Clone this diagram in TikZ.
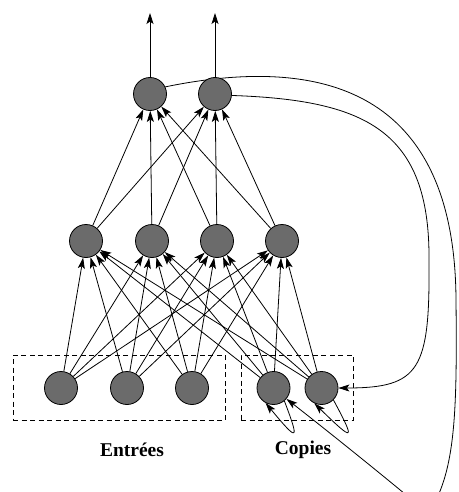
\documentclass[tikz,border=0pt]{standalone}
\usepackage{fontspec}
\setmainfont{Liberation Serif}
\usetikzlibrary{arrows.meta,backgrounds}
\begin{document}
\begin{tikzpicture}[x=1pt,y=-1pt,
  neuron/.style={circle,draw=black,line width=0.8pt,fill=black!58,minimum size=33pt,inner sep=0pt},
  conn/.style={line width=0.8pt,-{Stealth[length=11pt,width=7pt,inset=2.5pt]}},
  groupbox/.style={draw,dash pattern=on 5pt off 3.5pt,line width=0.8pt,minimum height=65pt,inner sep=0pt},
  lab/.style={font=\fontsize{19.5}{22}\selectfont\bfseries}]
\clip (0,0) rectangle (458,492);
% groups
\node[groupbox,minimum width=212pt] (boxE) at (119,387.5) {};
\node[groupbox,minimum width=112pt] (boxC) at (297,387.5) {};
% neurons
\node[neuron] (t1) at (150,94) {};
\node[neuron] (t2) at (215,94) {};
\node[neuron] (h1) at (86,241) {};
\node[neuron] (h2) at (152,241) {};
\node[neuron] (h3) at (217,241) {};
\node[neuron] (h4) at (282,241) {};
\node[neuron] (i1) at (61,388) {};
\node[neuron] (i2) at (127,388) {};
\node[neuron] (i3) at (192,388) {};
\node[neuron] (c1) at (273.5,388) {};
\node[neuron] (c2) at (321.5,388) {};
% outputs
\coordinate (o1) at (150,13);
\coordinate (o2) at (215,13);
\draw[conn] (t1) -- (o1);
\draw[conn] (t2) -- (o2);
% hidden -> output
\foreach \h in {h1,h2,h3,h4}
  \foreach \t in {t1,t2}
    \draw[conn] (\h) -- (\t);
% input & copies -> hidden
\foreach \b in {i1,i2,i3,c1,c2}
  \foreach \h in {h1,h2,h3,h4}
    \draw[conn] (\b) -- (\h);
% self loops on copies
\draw[conn] (c1.-50) .. controls (300,442) and (298,442) .. (c1.-118);
\draw[conn] (c2.-45) .. controls (356,442) and (354,442) .. (c2.-115);
% recurrent connections
\begin{scope}[on background layer]
\draw[conn] (t1.25) .. controls (335,52) and (455,100) .. (456,300)
  .. controls (457,400) and (456,460) .. (436,500)
  .. controls (428,512) and (418,504) .. (405,494)
  .. controls (370,465) and (320,425) .. (c1.-40);
\draw[conn] (t2.-5) .. controls (365,100) and (430,130) .. (429,260)
  .. controls (430,370) and (420,388) .. (c2.east);
\end{scope}
% labels
\node[lab] (lE) at (132,450) {Entrées};
\node[lab] (lC) at (303,450) {Copies};
\end{tikzpicture}
\end{document}
